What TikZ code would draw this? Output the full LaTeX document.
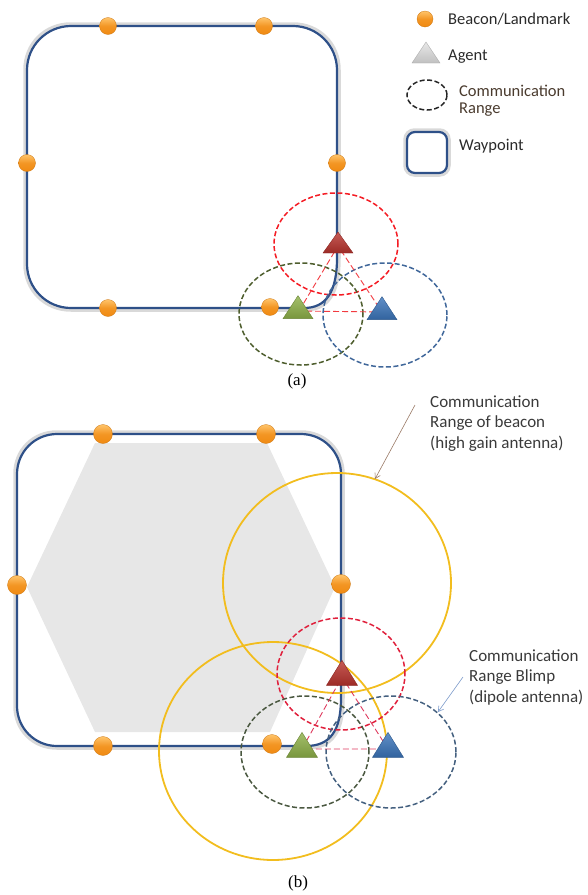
\documentclass[tikz,border=0pt]{standalone}
\usepackage{fontspec}
\setmainfont{Carlito}
\newfontfamily\captionfont{Liberation Serif}
\usetikzlibrary{arrows.meta}

\definecolor{route}{HTML}{2E5088}
\definecolor{glow}{HTML}{B4B4B4}
\definecolor{beaconorange}{HTML}{F08A12}
\definecolor{beaconlight}{HTML}{FFC46A}
\definecolor{ringred}{HTML}{F41C24}
\definecolor{ringredb}{HTML}{E0203C}
\definecolor{ringgreen}{HTML}{4E5E2E}
\definecolor{ringgreenb}{HTML}{4A5840}
\definecolor{ringblue}{HTML}{40679A}
\definecolor{ringblueb}{HTML}{44607F}
\definecolor{linkred}{HTML}{F23A40}
\definecolor{linkpink}{HTML}{DE3A5E}
\definecolor{beamyellow}{HTML}{F2BD1E}
\definecolor{hexfill}{HTML}{E7E7E7}
\definecolor{inktext}{HTML}{2A2A2A}
\definecolor{inkbrown}{HTML}{4A3B2E}
\definecolor{notetext}{HTML}{3A3A3A}
\definecolor{notebrown}{HTML}{9A7A66}
\definecolor{noteblue}{HTML}{7D9BCB}
\definecolor{agentgray}{HTML}{E2E2E2}
\definecolor{agentgreen}{HTML}{8DB047}
\definecolor{agentred}{HTML}{B8322C}
\definecolor{agentblue}{HTML}{3A74BA}

\tikzset{
  waypoint/.style={draw=route, line width=2.2pt, line join=round},
  halo/.style={draw=glow, line width=4.5pt, opacity=0.5, line join=round},
  beacon/.style={circle, inner sep=0pt, outer sep=0pt, minimum size=#1,
    draw=beaconorange!85!black, line width=0.3pt,
    top color=beaconlight, bottom color=beaconorange, middle color=beaconorange!80!beaconlight},
  beacon/.default=17pt,
  ring/.style={draw=#1, line width=1.5pt, dash pattern=on 5pt off 2.5pt},
  link/.style={draw=#1, line width=0.9pt, dash pattern=on 6pt off 3pt},
  beam/.style={draw=beamyellow, line width=1.8pt},
  notearrow/.style={draw=#1, line width=0.6pt, -{Straight Barb[length=5pt,width=6pt]}},
  label/.style={anchor=base west, inner sep=0pt, text=inktext,
    font=\fontsize{16.5}{16.5}\selectfont, align=left},
  note/.style={anchor=base west, inner sep=0pt, text=notetext,
    font=\fontsize{17}{20.5}\selectfont, align=left},
  caption/.style={inner sep=0pt, font=\captionfont\fontsize{17}{20}\selectfont}
}

% agent triangle: name, x, y (centroid), half base, height, colour
\newcommand\agentmark[6]{%
  \coordinate (#1) at (#2,#3);
  \shade[top color=#6!80!white, bottom color=#6!85!black, draw=#6!75!black, line width=0.4pt]
    ([shift={(0,-#5*2/3)}]#1) -- ([shift={(-#4,#5/3)}]#1) -- ([shift={(#4,#5/3)}]#1) -- cycle;
}

% route of panel (a), pushed outward by #1 (used for the soft outer glow)
\newcommand\routeApath[1]{(304,308+#1) -- (71,308+#1)
  .. controls (46.7-#1,308+#1) and (27-#1,288.3+#1) .. (27-#1,264) -- (27-#1,70)
  .. controls (27-#1,45.7-#1) and (46.7-#1,26-#1) .. (71,26-#1) -- (293,26-#1)
  .. controls (317.3+#1,26-#1) and (337+#1,45.7-#1) .. (337+#1,70) -- (337+#1,258)
  .. controls (337+#1,292+#1) and (326+#1,308+#1) .. (304,308+#1)}

% route of panel (b), pushed outward by #1
\newcommand\routeBpath[1]{(306,746+#1) -- (57,746+#1)
  .. controls (34.9-#1,746+#1) and (17-#1,728.1+#1) .. (17-#1,706) -- (17-#1,474)
  .. controls (17-#1,451.9-#1) and (34.9-#1,434-#1) .. (57,434-#1) -- (301,434-#1)
  .. controls (323.1+#1,434-#1) and (341+#1,451.9-#1) .. (341+#1,474) -- (341+#1,698)
  .. controls (341+#1,731+#1) and (330+#1,746+#1) .. (306,746+#1)}

\begin{document}
\begin{tikzpicture}[x=1pt, y=-1pt]
\useasboundingbox (0,0) rectangle (588,895);

% ---------- legend ----------
\node[beacon=16pt] (legbeacon) at (425,19) {};
\node[label] (legbeacontext) at (448,24) {Beacon/Landmark};
\agentmark{legagent}{426}{56}{14}{21}{agentgray}
\node[label] (legagenttext) at (448,60) {Agent};
\draw[ring=black!85] (427,95) ellipse [x radius=20pt, y radius=15pt];
\node[label, text=inkbrown] (legrangetext) at (459,113) {Communication\\Range};
\draw[halo, rounded corners=9pt] (405.5,130.5) rectangle (448.5,174.5);
\draw[waypoint, rounded corners=8pt] (407,132) rectangle (447,173);
\node[label] (legwaypointtext) at (459,150) {Waypoint};

% ---------- panel (a) ----------
\draw[halo] \routeApath{1.5};
\draw[waypoint] \routeApath{0};

\node[beacon] (a1) at (108,26) {};
\node[beacon] (a2) at (264,26) {};
\node[beacon] (a3) at (27,163) {};
\node[beacon] (a4) at (337,163) {};
\node[beacon] (a5) at (108,308) {};
\node[beacon] (a6) at (270,307) {};

\draw[ring=ringred]   (336,244) ellipse [x radius=62pt, y radius=51pt];
\draw[ring=ringgreen] (301,314) ellipse [x radius=62pt, y radius=51pt];
\draw[ring=ringblue]  (385,315) ellipse [x radius=62pt, y radius=52pt];

\coordinate (agA) at (299,311);
\coordinate (arA) at (338,246);
\coordinate (abA) at (382,312);
\draw[link=linkred] (agA) -- (arA) -- (abA) -- (agA);

\agentmark{greenA}{298}{311}{15}{23}{agentgreen}
\agentmark{redA}{338}{246}{15}{21}{agentred}
\agentmark{blueA}{382}{312}{15}{23}{agentblue}

\node[caption] (capa) at (297,381) {(a)};

% ---------- panel (b) ----------
\fill[hexfill] (95,443) -- (267,443) -- (335,587) -- (270,732) -- (95,732) -- (27,587) -- cycle;

\draw[halo] \routeBpath{1.5};
\draw[waypoint] \routeBpath{0};

\draw[beam] (337,583) ellipse [x radius=114pt, y radius=110pt];
\draw[beam] (273,751) ellipse [x radius=114pt, y radius=109pt];

\node[beacon=19pt] (b1) at (103,434) {};
\node[beacon=19pt] (b2) at (266,434) {};
\node[beacon=19pt] (b3) at (17,585) {};
\node[beacon=19pt] (b4) at (341,584) {};
\node[beacon=19pt] (b5) at (103,746) {};
\node[beacon=19pt] (b6) at (272,744) {};

\draw[ring=ringredb]   (341,674) ellipse [x radius=64pt, y radius=56pt];
\draw[ring=ringgreenb] (305,752) ellipse [x radius=64pt, y radius=56pt];
\draw[ring=ringblueb]  (391,752) ellipse [x radius=65pt, y radius=56pt];

\coordinate (agB) at (302,749);
\coordinate (arB) at (342,677);
\coordinate (abB) at (388,749);
\draw[link=linkpink] (agB) -- (arB) -- (abB) -- (agB);

\agentmark{greenB}{302}{749}{15.5}{25}{agentgreen}
\agentmark{redB}{342}{677}{15.5}{25}{agentred}
\agentmark{blueB}{388}{749}{15.5}{25}{agentblue}

% callouts
\node[note] (beaconnote) at (430,448) {Communication\\Range of beacon\\(high gain antenna)};
\coordinate (beaconnotefrom) at (415,405);
\coordinate (beaconnoteto) at (375,479);
\draw[notearrow=notebrown] (beaconnotefrom) -- (beaconnoteto);

\node[note] (blimpnote) at (469,702) {Communication\\Range Blimp\\(dipole antenna)};
\coordinate (blimpnotefrom) at (463,677);
\coordinate (blimpnoteto) at (438,712);
\draw[notearrow=noteblue] (blimpnotefrom) -- (blimpnoteto);

\node[caption] (capb) at (298,883) {(b)};
\end{tikzpicture}
\end{document}
